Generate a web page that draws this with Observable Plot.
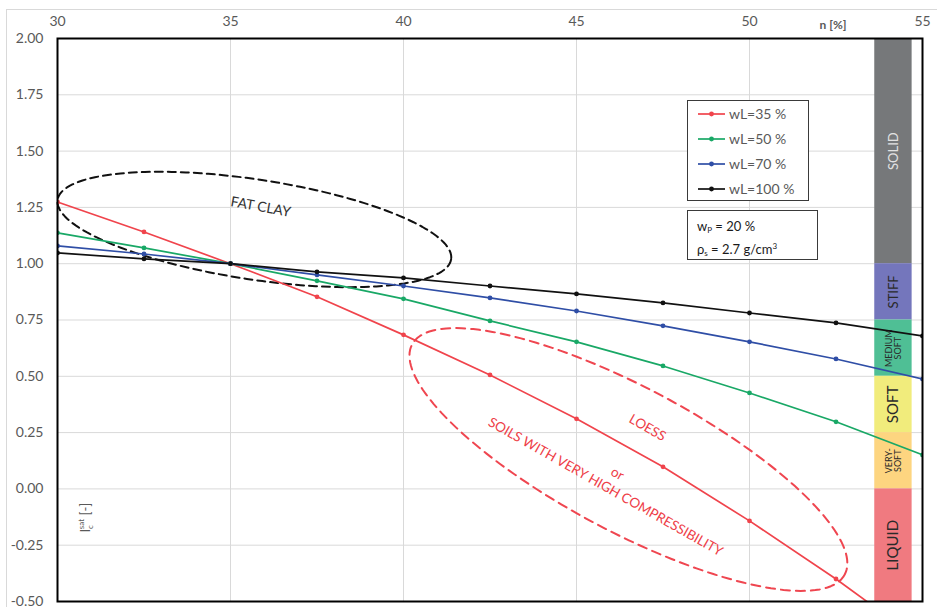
<!DOCTYPE html>
<html><head><meta charset="utf-8">
<script src="https://cdn.jsdelivr.net/npm/d3@7"></script>
<script src="https://cdn.jsdelivr.net/npm/@observablehq/plot@0.6"></script>
<style>
body{margin:0;background:#fff;font-family:Lato,sans-serif;}
#wrap{position:relative;width:937px;height:607px;overflow:hidden;background:#fff;}
#outer{position:absolute;left:6px;top:9px;width:1000px;height:700px;border-left:1px solid #d9d9d9;border-top:1px solid #d9d9d9;}
#chart{position:absolute;left:0;top:0;}
.box{position:absolute;border:1px solid #3a3a3a;background:#fff;box-sizing:border-box;}
#legend{left:687px;top:100px;width:122px;height:101px;}
.row{height:25px;display:flex;align-items:center;font-size:14px;color:#595959;}
.row svg{margin-left:10px;margin-right:4px;}
#params{left:687px;top:210px;width:131px;height:50px;font-size:13px;color:#1a1a1a;padding:7px 0 0 9px;line-height:16px;}
#params sub{font-size:8px;vertical-align:-2px;}
#params sup{font-size:8px;vertical-align:5px;}
</style></head><body>
<div id="wrap"><div id="outer"></div><div id="chart"></div>
<div id="legend" class="box"></div>
<div id="params" class="box">w<sub>P</sub> = 20 %<br>ρ<sub>s</sub> = 2.7 g/cm<sup>3</sup></div>
</div>
<script>
// ---- data ----
const nValues = [30, 32.5, 35, 37.5, 40, 42.5, 45, 47.5, 50, 52.5, 55];
const ic35  = [1.274, 1.141, 1.0, 0.853, 0.684, 0.506, 0.311, 0.098, -0.142, -0.40, -0.68];
const ic50  = [1.137, 1.070, 1.0, 0.924, 0.844, 0.746, 0.653, 0.546, 0.426, 0.298, 0.151];
const ic70  = [1.079, 1.043, 1.0, 0.950, 0.901, 0.848, 0.790, 0.724, 0.653, 0.577, 0.488];
const ic100 = [1.048, 1.021, 1.0, 0.964, 0.937, 0.901, 0.866, 0.826, 0.781, 0.737, 0.679];
const seriesNames = ["wL=35 %", "wL=50 %", "wL=70 %", "wL=100 %"];
const seriesColors = ["#f0444c", "#19a866", "#2f4ea6", "#111111"];
const bandNames = ["SOLID", "STIFF", "MEDIUM\nSOFT", "SOFT", "VERY-\nSOFT", "LIQUID"];
const bandTop = [2.0, 1.0, 0.75, 0.5, 0.25, 0.0];
const bandBottom = [1.0, 0.75, 0.5, 0.25, 0.0, -0.5];
const bandColors = ["#76787a", "#7476bc", "#4fbf95", "#f1ec7c", "#fdd580", "#f07a80"];
const xTicks = [30, 35, 40, 45, 50, 55];
const yTicks = [-0.5, -0.25, 0, 0.25, 0.5, 0.75, 1.0, 1.25, 1.5, 1.75, 2.0];
const annotText = ["FAT CLAY", "LOESS", "or", "SOILS WITH VERY HIGH COMPRESSIBILITY"];
const annotN = [35.87, 47.05, 46.18, 45.84];
const annotIc = [1.252, 0.271, 0.067, 0.009];
// ellipse annotations: centre (n, Ic), semi-axes in px, tilt in degrees
const ellipseCentreN = [35.69, 46.50];
const ellipseCentreIc = [1.152, 0.1305];
const ellipseA = [199, 245];
const ellipseB = [50, 72];
const ellipseTilt = [8.6, 28];

// ---- layout ----
const W = 937, H = 607, mL = 57, mT = 38, mR = 15, mB = 6;
const kx = (W - mL - mR) / (55 - 30);
const ky = (H - mT - mB) / (2.0 - -0.5);

const rows = [];
[ic35, ic50, ic70, ic100].forEach((arr, s) => arr.forEach((v, i) => rows.push({n: nValues[i], ic: v, series: seriesNames[s]})));
const bands = bandNames.map((b, i) => ({name: b, top: bandTop[i], bottom: bandBottom[i], color: bandColors[i]}));
const annots = annotText.map((t, i) => ({t, n: annotN[i], ic: annotIc[i]}));

function ellipsePts(i) {
  const pts = [], th = ellipseTilt[i] * Math.PI / 180;
  for (let k = 0; k <= 160; k++) {
    const t = k / 160 * 2 * Math.PI;
    const dx = ellipseA[i] * Math.cos(t) * Math.cos(th) - ellipseB[i] * Math.sin(t) * Math.sin(th);
    const dy = ellipseA[i] * Math.cos(t) * Math.sin(th) + ellipseB[i] * Math.sin(t) * Math.cos(th);
    pts.push({x: ellipseCentreN[i] + dx / kx, y: ellipseCentreIc[i] - dy / ky});
  }
  return pts;
}
const bandSize = {"SOLID": 13, "STIFF": 13, "MEDIUM\nSOFT": 9, "SOFT": 15, "VERY-\nSOFT": 9, "LIQUID": 15};

const chart = Plot.plot({
  width: W, height: H, marginLeft: mL, marginTop: mT, marginRight: mR, marginBottom: mB,
  style: {fontFamily: "Lato, sans-serif", fontSize: "14px", color: "#595959", background: "transparent", overflow: "visible"},
  x: {domain: [30, 55], ticks: xTicks, axis: "top", tickSize: 0, tickPadding: 13, label: null},
  y: {domain: [-0.5, 2], ticks: yTicks, tickSize: 0, tickPadding: 14, tickFormat: d => d.toFixed(2), label: null},
  color: {domain: seriesNames, range: seriesColors},
  marks: [
    Plot.gridX(xTicks, {stroke: "#d9d9d9", strokeOpacity: 1}),
    Plot.gridY(yTicks, {stroke: "#d9d9d9", strokeOpacity: 1}),
    Plot.rect(bands, {x1: () => 53.62, x2: () => 54.7, y1: "bottom", y2: "top", fill: d => d.color}),
    Plot.text(bands, {x: () => 54.16, y: d => (d.top + d.bottom) / 2, text: "name", rotate: -90, lineHeight: 1.05,
      fontSize: d => bandSize[d.name], fill: d => d.name === "SOLID" ? "#e2e2e2" : "#2a2a2a"}),
    Plot.line(ellipsePts(0), {x: "x", y: "y", stroke: "#111", strokeWidth: 2, strokeDasharray: "8,5"}),
    Plot.line(ellipsePts(1), {x: "x", y: "y", stroke: "#ef4650", strokeWidth: 2, strokeDasharray: "9,6"}),
    Plot.line(rows, {x: "n", y: "ic", z: "series", stroke: "series", strokeWidth: 1.7, clip: true}),
    Plot.dot(rows, {x: "n", y: "ic", fill: "series", r: 2.4, clip: true}),
    Plot.text(annots.slice(0, 1), {x: "n", y: "ic", text: "t", rotate: 10, fontSize: 14, fill: "#333"}),
    Plot.text(annots.slice(1), {x: "n", y: "ic", text: "t", rotate: 29.5, fontSize: 13.5, fill: "#ee3e48"}),
    Plot.frame({stroke: "#000", strokeWidth: 2})
  ]
});
document.getElementById("chart").appendChild(chart);

const sx = chart.scale("x"), sy = chart.scale("y");
const svg = d3.select(chart);
svg.append("text").attr("x", 833).attr("y", 29).attr("text-anchor", "middle")
  .attr("font-weight", "bold").attr("font-size", 12).attr("fill", "#595959").text("n [%]");
const yl = svg.append("text").attr("transform", `translate(${sx.apply(30) + 33},${sy.apply(-0.13)}) rotate(-90)`)
  .attr("text-anchor", "middle").attr("font-size", 13).attr("fill", "#595959");
yl.append("tspan").text("I");
yl.append("tspan").attr("font-size", 8).attr("dy", 3).text("c");
yl.append("tspan").attr("font-size", 8).attr("dy", -9).attr("dx", -4).text("sat");
yl.append("tspan").attr("dy", 6).text(" [-]");

// legend
const lg = d3.select("#legend");
seriesNames.forEach((name, i) => {
  const r = lg.append("div").attr("class", "row");
  const s = r.append("svg").attr("width", 27).attr("height", 8);
  s.append("line").attr("x1", 0).attr("x2", 27).attr("y1", 4).attr("y2", 4).attr("stroke", seriesColors[i]).attr("stroke-width", 1.7);
  s.append("circle").attr("cx", 13.5).attr("cy", 4).attr("r", 2.4).attr("fill", seriesColors[i]);
  r.append("span").text(name);
});
</script>
</body></html>
